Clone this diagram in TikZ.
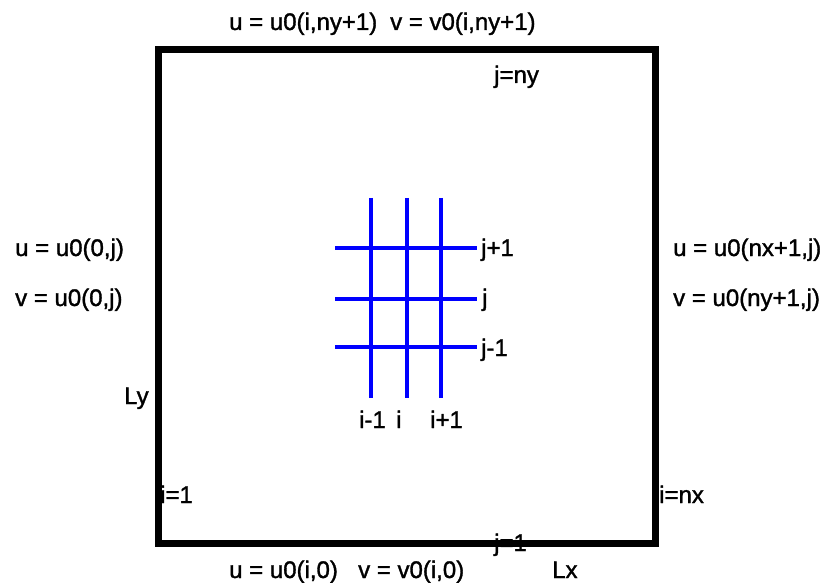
\documentclass[tikz,border=0pt]{standalone}
\usepackage{fontspec}
\setmainfont{Liberation Sans}[FakeBold=1.4]

\begin{document}
\begin{tikzpicture}[x=1pt,y=-1pt,
    lbl/.style={font=\fontsize{24}{28}\selectfont, inner sep=0pt, anchor=base west},
    gridline/.style={blue, line width=3.2pt}]
    \useasboundingbox (0,0) rectangle (828,583);

    % Stencil grid
    \foreach \x in {371,407,441}
        \draw[gridline] (\x,198) -- (\x,398);
    \foreach \y in {248,299,347}
        \draw[gridline] (335,\y) -- (477,\y);
    \node[lbl] (jp) at (481,256) {j+1};
    \node[lbl] (jc) at (482,306) {j};
    \node[lbl] (jm) at (481,356) {j-1};
    \node[lbl] (im) at (359,428) {i-1};
    \node[lbl] (ic) at (396,428) {i};
    \node[lbl] (ip) at (430,428) {i+1};

    % Boundary values
    \node[lbl] (utop) at (229,30) {u = u0(i,ny+1)};
    \node[lbl] (vtop) at (390,30) {v = v0(i,ny+1)};
    \node[lbl] (ubot) at (229,578) {u = u0(i,0)};
    \node[lbl] (vbot) at (358,578) {v = v0(i,0)};
    \node[lbl] (uleft) at (15,256) {u = u0(0,j)};
    \node[lbl] (vleft) at (15,306) {v = u0(0,j)};
    \node[lbl] (uright) at (673,256) {u = u0(nx+1,j)};
    \node[lbl] (vright) at (673,306) {v = u0(ny+1,j)};

    % Indices and lengths
    \node[lbl] (jtop) at (494,83) {j=ny};
    \node[lbl] (jbot) at (494,551) {j=1};
    \node[lbl] (ifirst) at (160,503) {i=1};
    \node[lbl] (ilast) at (659,503) {i=nx};
    \node[lbl] (ly) at (124,404) {Ly};
    \node[lbl] (lx) at (552,578) {Lx};

    % Domain
    \draw[line width=7pt] (158,50) rectangle (655,543);
\end{tikzpicture}
\end{document}
